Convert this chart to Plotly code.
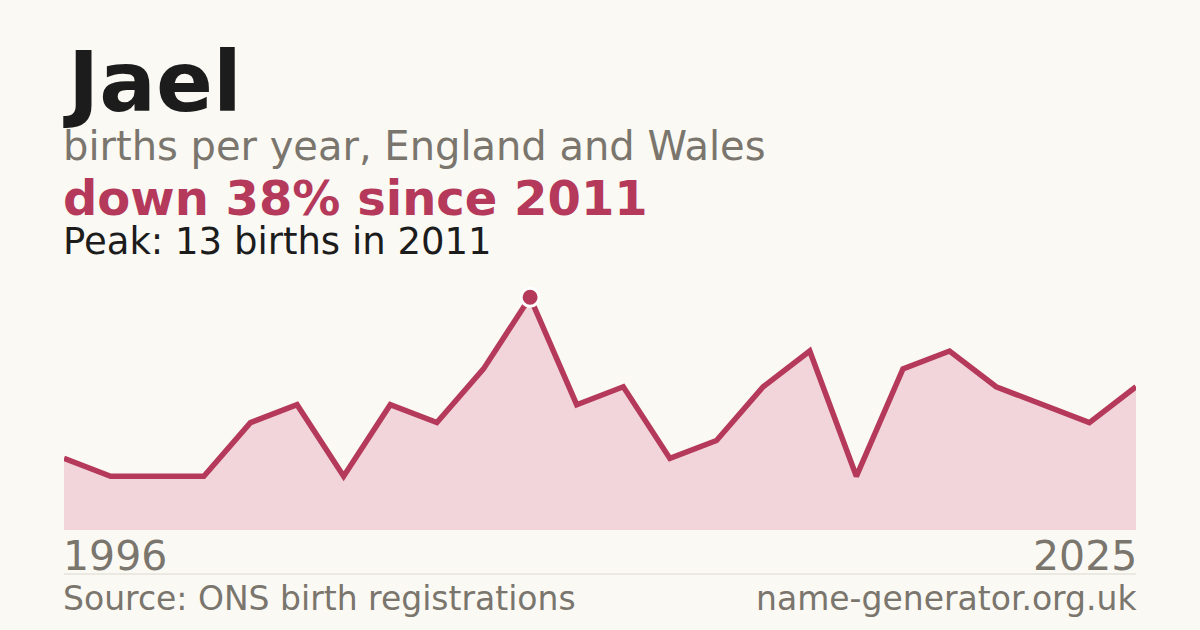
import plotly.graph_objects as go

# ---- data ----
years = [1996, 1997, 1998, 2000, 2001, 2002, 2004, 2006, 2007, 2009, 2011,
         2012, 2013, 2014, 2015, 2016, 2017, 2018, 2019, 2021, 2022, 2023, 2024, 2025]
births = [4, 3, 3, 3, 6, 7, 3, 7, 6, 9, 13,
          7, 8, 4, 5, 8, 10, 3, 9, 10, 8, 7, 6, 8]
name = "Jael"
subtitle = "births per year, England and Wales"
source_text = "Source: ONS birth registrations"
site_text = "name-generator.org.uk"

peak_i = max(range(len(births)), key=lambda i: births[i])
peak_val = births[peak_i]
peak_year = years[peak_i]
change = round((births[-1] - peak_val) / peak_val * 100)
headline = f"{'down' if change < 0 else 'up'} {abs(change)}% since {peak_year}"
peak_line = f"Peak: {peak_val} births in {peak_year}"

# ---- style ----
W, H = 1200, 630
L, R, T, B = 64, 64, 280, 100
BG = "#faf9f4"
RED = "#b5395a"
FILL = "#f1d5da"
GREY = "#7a756d"
DARK = "#1c1c1c"
FONT = "DejaVu Sans"

plot_h = H - T - B
plot_w = W - L - R
px_per_unit = 17.9
ymax = plot_h / px_per_unit

def py(p):
    return (H - B - p) / plot_h

PADX = 3 / plot_w
xs = list(range(len(years)))

fig = go.Figure()
fig.add_trace(go.Scatter(
    x=xs, y=births, mode="lines", fill="tozeroy",
    fillcolor=FILL, line=dict(color=RED, width=5.5),
    hoverinfo="skip", showlegend=False))
fig.add_trace(go.Scatter(
    x=[xs[peak_i]], y=[peak_val], mode="markers",
    marker=dict(size=18, color=RED, line=dict(color="white", width=3)),
    cliponaxis=False, hoverinfo="skip", showlegend=False))

def ann(text, xp, base, size, color, bold=False, xanchor="left"):
    t = f"<b>{text}</b>" if bold else text
    return dict(text=t, x=xp, y=py(base - 0.346 * size), xref="paper", yref="paper",
                xanchor=xanchor, yanchor="middle", showarrow=False,
                font=dict(family=FONT, size=size, color=color))

annotations = [
    ann(name, -PADX, 111, 84, DARK, bold=True),
    ann(subtitle, -PADX, 160, 40, GREY),
    ann(headline, -PADX, 215, 48, RED, bold=True),
    ann(peak_line, -PADX, 254, 37, DARK),
    ann(str(years[0]), -PADX, 570, 41, GREY),
    ann(str(years[-1]), 1 + PADX, 570, 41, GREY, xanchor="right"),
    ann(source_text, -PADX, 610, 33, GREY),
    ann(site_text, 1 + PADX, 610, 33, GREY, xanchor="right"),
]

fig.update_layout(
    width=W, height=H,
    margin=dict(l=L, r=R, t=T, b=B, pad=0),
    paper_bgcolor=BG, plot_bgcolor=BG,
    xaxis=dict(range=[0, len(years) - 1], visible=False, fixedrange=True),
    yaxis=dict(range=[0, ymax], visible=False, fixedrange=True),
    annotations=annotations,
    shapes=[dict(type="line", xref="paper", yref="paper", x0=0, x1=1,
                 y0=py(574), y1=py(574), line=dict(color="#dcd8cf", width=1))],
)

fig.write_html("out.html", config={"displayModeBar": False},
               post_script="document.body.style.margin='0';document.body.style.background='#faf9f4';")
